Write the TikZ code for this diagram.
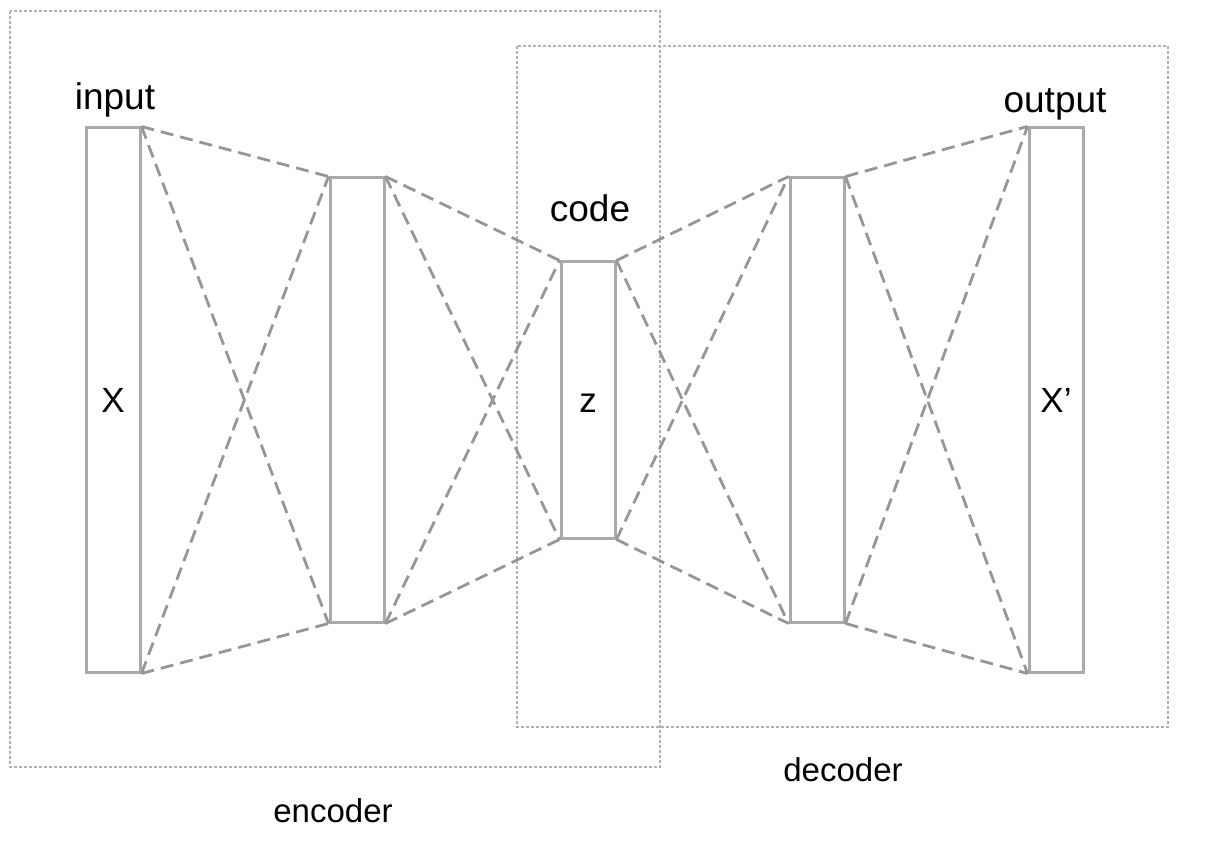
\documentclass[tikz,border=0pt]{standalone}
\usepackage{fontspec}
\setmainfont{Liberation Sans}
\usetikzlibrary{positioning}
\definecolor{linegray}{HTML}{969696}
\definecolor{bargray}{HTML}{AAAAAA}
\definecolor{boxgray}{HTML}{B0B0B0}
\tikzset{
  layer/.style={draw=bargray,line width=3pt,fill=white,minimum width=54pt,
    inner sep=0pt,text height=25pt,text depth=0pt,
    font=\fontsize{35}{37}\selectfont},
  wire/.style={linegray,line width=2.8pt,dash pattern=on 13pt off 7pt},
  part/.style={boxgray,line width=1.5pt,dash pattern=on 3pt off 2pt},
  lbl/.style={font=\fontsize{37}{40}\selectfont,anchor=base,inner sep=0pt},
  partlbl/.style={font=\fontsize{33}{36}\selectfont,anchor=base,inner sep=0pt},
}
\begin{document}
\begin{tikzpicture}[x=1pt,y=-1pt]
  \useasboundingbox (0,0) rectangle (1208,850);
  % dotted frames
  \draw[part] (10,11) rectangle (660,767);
  \draw[part] (517,46) rectangle (1168,727);
  % layers
  \node[layer,minimum height=544pt] (in)   at (113,400) {X};
  \node[layer,minimum height=444pt] (enc)  at (357,400) {};
  \node[layer,minimum height=276pt] (code) at (588,400) {z};
  \node[layer,minimum height=444pt] (dec)  at (817,400) {};
  \node[layer,minimum height=544pt] (out)  at (1056,400) {X'};
  % connections
  \foreach \a/\b in {in/enc,enc/code,code/dec,dec/out}{
    \draw[wire] (\a.north east) -- (\b.north west);
    \draw[wire] (\a.north east) -- (\b.south west);
    \draw[wire] (\a.south east) -- (\b.north west);
    \draw[wire] (\a.south east) -- (\b.south west);
  }
  % labels
  \node[lbl] (inlbl)   at (115,110) {input};
  \node[lbl] (codelbl) at (590,222) {code};
  \node[lbl] (outlbl)  at (1055,113) {output};
  \node[partlbl] (enclbl) at (333,822) {encoder};
  \node[partlbl] (declbl) at (843,781) {decoder};
\end{tikzpicture}
\end{document}
